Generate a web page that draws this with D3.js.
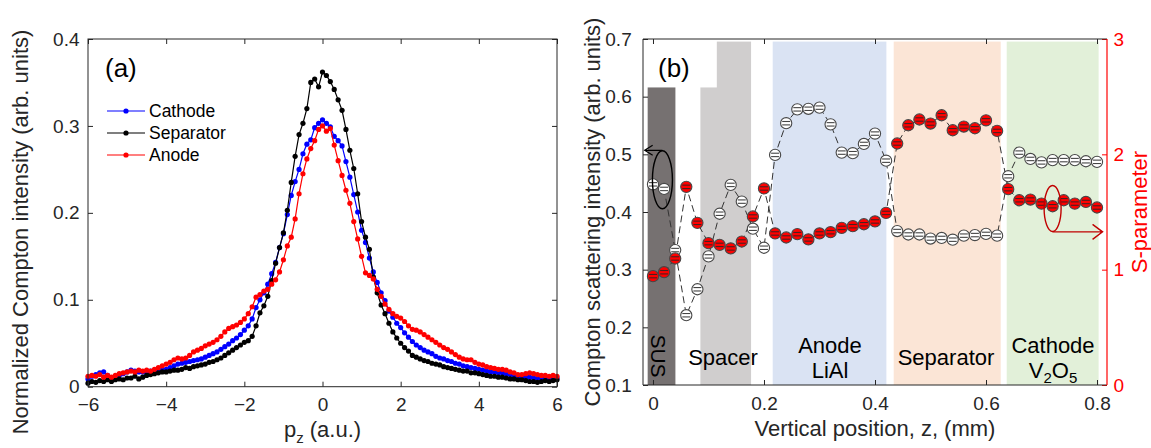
<!DOCTYPE html>
<html>
<head>
<meta charset="utf-8">
<script src="https://cdn.jsdelivr.net/npm/d3@7"></script>
<style>
  body { margin: 0; background: #fff; }
  svg { font-family: "Liberation Sans", Arial, Helvetica, sans-serif; }
</style>
</head>
<body>
<div id="chart"></div>
<script>
// ---------- panel (a): Compton profiles ----------
const pz = d3.range(-60, 61).map(i => i / 10);   // sampling grid -6 .. 6 a.u.

const cathode = [
  0.009,0.012,0.014,0.016,0.017,0.013,0.010,0.011,0.013,0.015,
  0.017,0.019,0.018,0.017,0.017,0.017,0.018,0.018,0.019,0.019,
  0.020,0.022,0.024,0.026,0.027,0.028,0.029,0.030,0.031,0.032,
  0.034,0.036,0.038,0.040,0.043,0.046,0.049,0.053,0.056,0.060,
  0.065,0.070,0.078,0.091,0.100,0.108,0.118,0.130,0.143,0.160,
  0.176,0.198,0.220,0.236,0.250,0.268,0.279,0.284,0.298,0.303,
  0.307,0.303,0.299,0.288,0.283,0.277,0.259,0.241,0.221,0.201,
  0.180,0.166,0.148,0.132,0.120,0.108,0.099,0.087,0.080,0.073,
  0.068,0.062,0.057,0.052,0.048,0.045,0.042,0.040,0.038,0.035,
  0.033,0.032,0.030,0.029,0.027,0.026,0.024,0.023,0.022,0.021,
  0.020,0.019,0.018,0.017,0.017,0.016,0.016,0.015,0.014,0.013,
  0.012,0.012,0.011,0.011,0.010,0.010,0.010,0.010,0.009,0.009,
  0.010
];

const separator = [
  0.004,0.006,0.005,0.007,0.006,0.008,0.006,0.008,0.009,0.008,
  0.010,0.010,0.012,0.009,0.011,0.013,0.014,0.015,0.016,0.017,
  0.017,0.018,0.019,0.019,0.020,0.022,0.021,0.023,0.024,0.025,
  0.026,0.028,0.029,0.031,0.033,0.036,0.039,0.042,0.045,0.048,
  0.051,0.053,0.058,0.070,0.085,0.093,0.104,0.122,0.142,0.160,
  0.177,0.203,0.235,0.265,0.290,0.303,0.320,0.350,0.354,0.345,
  0.362,0.358,0.351,0.342,0.330,0.318,0.296,0.272,0.251,0.222,
  0.190,0.172,0.158,0.126,0.108,0.094,0.084,0.073,0.063,0.056,
  0.050,0.045,0.041,0.036,0.034,0.032,0.030,0.029,0.027,0.026,
  0.025,0.023,0.022,0.021,0.020,0.019,0.018,0.018,0.016,0.016,
  0.015,0.014,0.013,0.012,0.012,0.011,0.011,0.010,0.009,0.009,
  0.008,0.008,0.007,0.006,0.006,0.005,0.006,0.007,0.006,0.007,
  0.008
];

const anode = [
  0.012,0.013,0.012,0.014,0.011,0.013,0.011,0.013,0.015,0.016,
  0.017,0.018,0.017,0.019,0.018,0.019,0.018,0.020,0.022,0.024,
  0.026,0.028,0.031,0.033,0.032,0.033,0.036,0.040,0.042,0.044,
  0.047,0.049,0.051,0.054,0.058,0.063,0.067,0.069,0.071,0.074,
  0.078,0.084,0.092,0.103,0.106,0.110,0.112,0.118,0.123,0.132,
  0.146,0.162,0.172,0.193,0.222,0.245,0.262,0.274,0.283,0.296,
  0.300,0.294,0.297,0.278,0.260,0.243,0.226,0.211,0.190,0.170,
  0.150,0.131,0.128,0.124,0.112,0.104,0.095,0.089,0.084,0.081,
  0.079,0.075,0.070,0.066,0.065,0.063,0.060,0.057,0.054,0.051,
  0.048,0.045,0.043,0.040,0.037,0.034,0.032,0.031,0.031,0.028,
  0.026,0.025,0.023,0.022,0.021,0.020,0.020,0.019,0.017,0.016,
  0.014,0.014,0.015,0.016,0.015,0.014,0.013,0.013,0.012,0.013,
  0.012
];

const seriesNames = ["Cathode", "Separator", "Anode"];
const xTicksA = [-6, -4, -2, 0, 2, 4, 6];
const yTicksA = [0, 0.1, 0.2, 0.3, 0.4];

// ---------- panel (b): depth scan ----------
const zPos = [
  0.00,0.02,0.04,0.06,0.08,0.10,0.12,0.14,0.16,0.18,
  0.20,0.22,0.24,0.26,0.28,0.30,0.32,0.34,0.36,0.38,
  0.40,0.42,0.44,0.46,0.48,0.50,0.52,0.54,0.56,0.58,
  0.60,0.62,0.64,0.66,0.68,0.70,0.72,0.74,0.76,0.78,
  0.80
];
const comptonInt = [
  0.448,0.440,0.334,0.221,0.266,0.323,0.397,0.447,0.418,0.371,
  0.338,0.499,0.554,0.578,0.579,0.581,0.552,0.503,0.502,0.518,
  0.536,0.489,0.367,0.361,0.361,0.354,0.355,0.352,0.359,0.360,
  0.362,0.359,0.462,0.503,0.492,0.486,0.490,0.490,0.490,0.488,
  0.487
];
const sParam = [
  0.944,0.978,1.097,1.718,1.406,1.230,1.215,1.184,1.244,1.461,
  1.704,1.314,1.279,1.308,1.262,1.314,1.325,1.362,1.377,1.394,
  1.418,1.492,2.094,2.252,2.302,2.267,2.339,2.209,2.241,2.226,
  2.295,2.203,1.698,1.602,1.608,1.573,1.550,1.602,1.573,1.587,
  1.539
];

const regionNames = ["SUS", "Spacer", "Anode", "Separator", "Cathode"];
const regionStart = [-0.0096, 0.0854, 0.2157, 0.4337, 0.6373];
const regionEnd   = [ 0.0404, 0.1767, 0.4205, 0.6265, 0.8029];
const regionTop = 0.6955;

const xTicksB = [0, 0.2, 0.4, 0.6, 0.8];
const yTicksB = [0.1, 0.2, 0.3, 0.4, 0.5, 0.6, 0.7];
const sTicks = [0, 1, 2, 3];

// ---------- styles ----------
const lineColors = ["#0000ff", "#000000", "#ff0000"];
const regionColors = ["#767171", "#d0cece", "#dae3f3", "#fbe5d6", "#e2f0d9"];
const axisColor = "#262626";
const sColor = "#ff0000";
const tickFont = "19px";
const titleFont = "22px";

const svg = d3.select("#chart")
              .append("svg")
              .attr("width", 1151)
              .attr("height", 448);

function styleAxis(g, color) {
    g.select(".domain").remove();
    g.selectAll(".tick line").attr("stroke", color).attr("stroke-width", 1);
    g.selectAll(".tick text")
     .attr("fill", color)
     .style("font-size", tickFont)
     .style("font-family", "'Liberation Sans', Arial, sans-serif");
}

// ================= Panel (a) =================
const xA = d3.scaleLinear().domain([-6, 6]).range([88, 557]);
const yA = d3.scaleLinear().domain([0, 0.4]).range([386.7, 39]);

const gA = svg.append("g");

const profiles = [cathode, separator, anode].map((vals, i) => ({
    name: seriesNames[i],
    color: lineColors[i],
    values: vals.map((v, j) => ({ p: pz[j], v: v }))
}));

const lineA = d3.line().x(d => xA(d.p)).y(d => yA(d.v));

const prof = gA.selectAll(".profile")
               .data(profiles)
               .join("g");

prof.append("path")
    .attr("fill", "none")
    .attr("stroke", d => d.color)
    .attr("stroke-width", 1.2)
    .attr("d", d => lineA(d.values));

prof.selectAll("circle")
    .data(d => d.values.map(e => ({ ...e, color: d.color })))
    .join("circle")
    .attr("cx", d => xA(d.p))
    .attr("cy", d => yA(d.v))
    .attr("r", 2.6)
    .attr("fill", d => d.color);

// axes (ticks inward, box on)
gA.append("g")
  .attr("transform", `translate(0, ${yA(0)})`)
  .call(d3.axisBottom(xA).tickValues(xTicksA).tickSize(-5).tickPadding(11))
  .call(g => styleAxis(g, axisColor));

gA.append("g")
  .attr("transform", `translate(0, ${yA(0.4)})`)
  .call(d3.axisTop(xA).tickValues(xTicksA).tickSize(-5).tickFormat(""))
  .call(g => styleAxis(g, axisColor));

gA.append("g")
  .attr("transform", `translate(${xA(-6)}, 0)`)
  .call(d3.axisLeft(yA).tickValues(yTicksA).tickSize(-5).tickPadding(8.5)
          .tickFormat(d => d === 0 ? "0" : d3.format(".1f")(d)))
  .call(g => styleAxis(g, axisColor));

gA.append("g")
  .attr("transform", `translate(${xA(6)}, 0)`)
  .call(d3.axisRight(yA).tickValues(yTicksA).tickSize(-5).tickFormat(""))
  .call(g => styleAxis(g, axisColor));

gA.append("rect")
  .attr("x", xA(-6)).attr("y", yA(0.4))
  .attr("width", xA(6) - xA(-6)).attr("height", yA(0) - yA(0.4))
  .attr("fill", "none").attr("stroke", axisColor).attr("stroke-width", 1);

// labels
gA.append("text")
  .attr("x", 105).attr("y", 77)
  .style("font-size", "26px")
  .attr("fill", "#000")
  .text("(a)");

const xTitleA = gA.append("text")
  .attr("x", xA(0)).attr("y", 437)
  .attr("text-anchor", "middle")
  .style("font-size", titleFont)
  .attr("fill", axisColor);
xTitleA.append("tspan").text("p");
xTitleA.append("tspan").attr("dy", 6).style("font-size", "15px").text("z");
xTitleA.append("tspan").attr("dy", -6).text(" (a.u.)");

gA.append("text")
  .attr("transform", `translate(28, 232) rotate(-90)`)
  .attr("text-anchor", "middle")
  .style("font-size", titleFont)
  .attr("fill", axisColor)
  .text("Normalized Compton intensity (arb. units)");

// legend
const legend = gA.selectAll(".legend")
                 .data(profiles)
                 .join("g")
                 .attr("transform", (d, i) => `translate(107, ${111 + i * 22})`);

legend.append("line")
      .attr("x1", 0).attr("x2", 38)
      .attr("stroke", d => d.color)
      .attr("stroke-width", 1.2);

legend.append("circle")
      .attr("cx", 19).attr("r", 2.6)
      .attr("fill", d => d.color);

legend.append("text")
      .attr("x", 42).attr("y", 6)
      .style("font-size", "17.5px")
      .attr("fill", "#000")
      .text(d => d.name);

// ================= Panel (b) =================
const xB = d3.scaleLinear().domain([-0.018, 0.818]).range([643, 1107]);
const yB = d3.scaleLinear().domain([0.1, 0.7]).range([385, 39]);
const yS = d3.scaleLinear().domain([0, 3]).range([385, 39]);

const gB = svg.append("g");

// shaded regions
const regions = regionNames.map((n, i) => ({
    name: n, x0: regionStart[i], x1: regionEnd[i], color: regionColors[i]
}));

gB.selectAll(".region")
  .data(regions)
  .join("rect")
  .attr("x", d => xB(d.x0))
  .attr("width", d => xB(d.x1) - xB(d.x0))
  .attr("y", yB(regionTop))
  .attr("height", yB(0.1) - yB(regionTop))
  .attr("fill", d => d.color);

// white background of the "(b)" label
gB.append("rect")
  .attr("x", xB(-0.018)).attr("y", yB(0.7))
  .attr("width", xB(0.115) - xB(-0.018))
  .attr("height", yB(0.616) - yB(0.7))
  .attr("fill", "#fff");

gB.append("text")
  .attr("x", 658).attr("y", 77)
  .style("font-size", "26px")
  .attr("fill", "#000")
  .text("(b)");

// region labels
gB.append("text")
  .attr("transform", `translate(651, 356) rotate(90)`)
  .attr("text-anchor", "middle")
  .style("font-size", "21px")
  .attr("fill", "#000")
  .text("SUS");

gB.append("text")
  .attr("x", 723).attr("y", 365)
  .attr("text-anchor", "middle")
  .style("font-size", "22px")
  .text("Spacer");

gB.append("text")
  .attr("x", 830).attr("y", 353)
  .attr("text-anchor", "middle")
  .style("font-size", "22px")
  .text("Anode");
gB.append("text")
  .attr("x", 830).attr("y", 378)
  .attr("text-anchor", "middle")
  .style("font-size", "22px")
  .text("LiAl");

gB.append("text")
  .attr("x", 946).attr("y", 365)
  .attr("text-anchor", "middle")
  .style("font-size", "22px")
  .text("Separator");

gB.append("text")
  .attr("x", 1053).attr("y", 353)
  .attr("text-anchor", "middle")
  .style("font-size", "22px")
  .text("Cathode");
const v2o5 = gB.append("text")
  .attr("x", 1053).attr("y", 378)
  .attr("text-anchor", "middle")
  .style("font-size", "22px");
v2o5.append("tspan").text("V");
v2o5.append("tspan").attr("dy", 5).style("font-size", "15px").text("2");
v2o5.append("tspan").attr("dy", -5).text("O");
v2o5.append("tspan").attr("dy", 5).style("font-size", "15px").text("5");

// data points
const comptonPts = zPos.map((z, i) => ({ z: z, v: comptonInt[i] }));
const sPts = zPos.map((z, i) => ({ z: z, v: sParam[i] }));

const lineC = d3.line().x(d => xB(d.z)).y(d => yB(d.v));
const lineS = d3.line().x(d => xB(d.z)).y(d => yS(d.v));

gB.append("path")
  .attr("d", lineC(comptonPts))
  .attr("fill", "none")
  .attr("stroke", "#333")
  .attr("stroke-width", 1)
  .attr("stroke-dasharray", "7,4");

gB.append("path")
  .attr("d", lineS(sPts))
  .attr("fill", "none")
  .attr("stroke", "#333")
  .attr("stroke-width", 1)
  .attr("stroke-dasharray", "7,4");

function drawMarkers(pts, yScale, fill, barColor) {
    const m = gB.append("g")
                .selectAll("g")
                .data(pts)
                .join("g")
                .attr("transform", d => `translate(${xB(d.z)}, ${yScale(d.v)})`);
    m.append("circle")
     .attr("r", 5.6)
     .attr("fill", fill)
     .attr("stroke", "#474747")
     .attr("stroke-width", 1.1);
    [-1.7, 1.7].forEach(dy => {
        m.append("line")
         .attr("x1", -4).attr("x2", 4)
         .attr("y1", dy).attr("y2", dy)
         .attr("stroke", barColor)
         .attr("stroke-width", 1.1);
    });
}

drawMarkers(comptonPts, yB, "#ffffff", "#444");
drawMarkers(sPts, yS, "#ff0000", "#4a2020");

// annotation: black ellipse -> left axis
gB.append("ellipse")
  .attr("cx", xB(0.017)).attr("cy", yB(0.456))
  .attr("rx", 10).attr("ry", 29)
  .attr("fill", "none").attr("stroke", "#000").attr("stroke-width", 1.4);
gB.append("path")
  .attr("d", `M${xB(0.017)},${yB(0.507)} H${xB(-0.015)} m8,-5 l-8,5 l8,5`)
  .attr("fill", "none").attr("stroke", "#000").attr("stroke-width", 1.2);

// annotation: red ellipse -> right axis
gB.append("ellipse")
  .attr("cx", xB(0.72)).attr("cy", yS(1.53))
  .attr("rx", 8.5).attr("ry", 23)
  .attr("fill", "none").attr("stroke", "#c00000").attr("stroke-width", 1.4);
gB.append("path")
  .attr("d", `M${xB(0.72)},${yS(1.328)} H${xB(0.81)} m-10,-7.5 l10,7.5 l-10,7.5`)
  .attr("fill", "none").attr("stroke", "#c00000").attr("stroke-width", 1.4);

// axes
gB.append("g")
  .attr("transform", `translate(0, ${yB(0.1)})`)
  .call(d3.axisBottom(xB).tickValues(xTicksB).tickSize(-5).tickPadding(11.5)
          .tickFormat(d => d === 0 ? "0" : d3.format(".1f")(d)))
  .call(g => styleAxis(g, axisColor));

gB.append("g")
  .attr("transform", `translate(0, ${yB(0.7)})`)
  .call(d3.axisTop(xB).tickValues(xTicksB).tickSize(-5).tickFormat(""))
  .call(g => styleAxis(g, axisColor));

gB.append("g")
  .attr("transform", `translate(${xB(-0.018)}, 0)`)
  .call(d3.axisLeft(yB).tickValues(yTicksB).tickSize(-5).tickPadding(11.3)
          .tickFormat(d3.format(".1f")))
  .call(g => styleAxis(g, axisColor));

gB.append("g")
  .attr("transform", `translate(${xB(0.818)}, 0)`)
  .call(d3.axisRight(yS).tickValues(sTicks).tickSize(-5).tickPadding(6.5)
          .tickFormat(d3.format("d")))
  .call(g => styleAxis(g, sColor));

gB.append("path")
  .attr("d", `M${xB(0.818)},${yB(0.7)} H${xB(-0.018)} V${yB(0.1)} H${xB(0.818)}`)
  .attr("fill", "none").attr("stroke", axisColor).attr("stroke-width", 1);
gB.append("line")
  .attr("x1", xB(0.818)).attr("x2", xB(0.818))
  .attr("y1", yB(0.7)).attr("y2", yB(0.1))
  .attr("stroke", sColor).attr("stroke-width", 1.2);

gB.append("text")
  .attr("x", (xB(-0.018) + xB(0.818)) / 2).attr("y", 436)
  .attr("text-anchor", "middle")
  .style("font-size", titleFont)
  .attr("fill", axisColor)
  .text("Vertical position, z, (mm)");

gB.append("text")
  .attr("transform", `translate(600, 212) rotate(-90)`)
  .attr("text-anchor", "middle")
  .style("font-size", titleFont)
  .attr("fill", axisColor)
  .text("Compton scattering intensity (arb. units)");

gB.append("text")
  .attr("transform", `translate(1147, 212) rotate(-90)`)
  .attr("text-anchor", "middle")
  .style("font-size", titleFont)
  .attr("fill", sColor)
  .text("S-parameter");
</script>
</body>
</html>
